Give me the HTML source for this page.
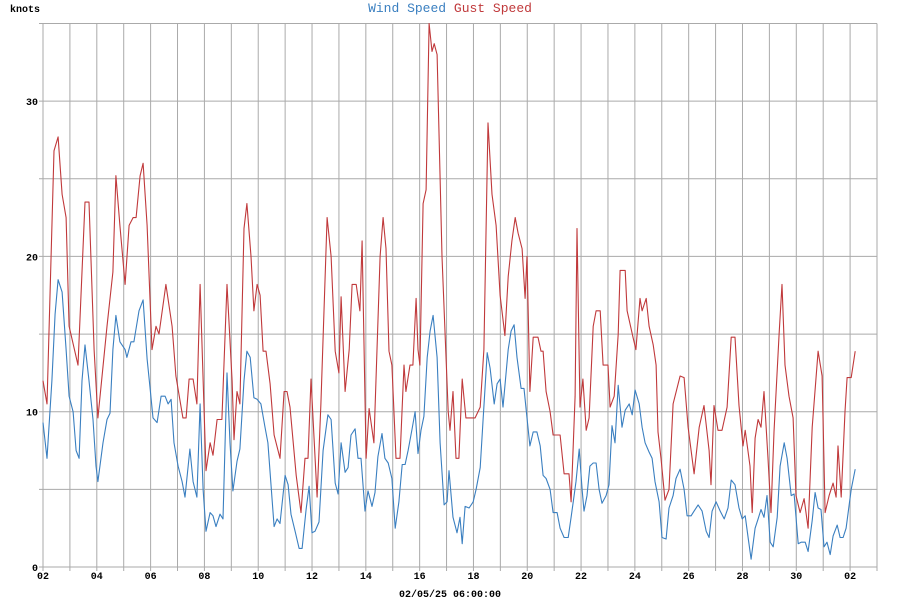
<!DOCTYPE html>
<html><head><meta charset="utf-8"><style>
html,body{margin:0;padding:0;background:#fff;}
svg text{font-family:"Liberation Mono","DejaVu Sans Mono",monospace;}
</style></head><body>
<svg id="chart" width="900" height="600" viewBox="0 0 900 600" xmlns="http://www.w3.org/2000/svg">
<rect x="0" y="0" width="900" height="600" fill="#fff"/>
<g id="grid"></g>
<g id="series"></g>
<g id="axes"></g>
<text x="10" y="12" font-size="10" font-weight="bold" fill="#000">knots</text>
<text x="450" y="12" font-size="13" text-anchor="middle"><tspan fill="#3a7fc0">Wind Speed</tspan> <tspan fill="#c0393b">Gust Speed</tspan></text>
<text x="450" y="597" font-size="10" font-weight="bold" text-anchor="middle" fill="#000">02/05/25 06:00:00</text>
</svg>
<script>
const yTicks=[0,10,20,30];
const xTickDays=[0,2,4,6,8,10,12,14,16,18,20,22,24,26,28,30];
const xTickLabels=["02","04","06","08","10","12","14","16","18","20","22","24","26","28","30","02"];
const gustT=[0,.15,.41,.56,.71,.86,.97,1.30,1.56,1.71,1.90,2.04,2.38,2.60,2.71,2.86,3.05,3.20,3.35,3.46,3.61,3.72,3.87,4.05,4.20,4.31,4.57,4.80,4.94,5.20,5.32,5.43,5.58,5.72,5.84,6.06,6.21,6.32,6.47,6.65,6.84,7.03,7.10,7.21,7.32,7.47,7.58,7.73,7.84,7.96,8.07,8.18,8.29,8.44,8.59,8.81,8.96,9.07,9.18,9.41,9.59,9.74,9.85,9.96,10.19,10.33,10.56,10.71,10.86,11.00,11.08,11.23,11.38,11.49,11.64,11.78,11.86,12.01,12.12,12.30,12.53,12.64,12.75,12.86,12.97,13.12,13.27,13.42,13.49,13.64,13.75,13.87,13.94,14.01,14.13,14.24,14.35,14.46,14.54,14.65,14.83,15.06,15.13,15.24,15.35,15.46,15.58,15.72,16.06,16.25,16.39,16.54,16.69,16.84,16.99,17.17,17.29,17.43,17.55,17.66,17.81,17.92,17.99,18.10,18.22,18.40,18.51,18.59,18.70,18.85,18.96,19.22,19.37,19.55,19.63,19.78,19.85,19.96,20.07,20.19,20.30,20.45,20.56,20.71,20.82,21.00,21.08,21.23,21.38,21.45,21.64,21.71,21.93,22.04,22.19,22.27,22.42,22.53,22.68,22.79,22.86,22.97,23.12,23.27,23.42,23.68,23.83,23.98,24.20,24.39,24.57,24.76,24.83,24.94,25.09,25.24,25.43,25.58,25.72,25.87,26.02,26.10,26.28,26.36,26.47,26.58,26.69,26.80,26.95,27.06,27.17,27.36,27.47,27.58,27.73,27.88,27.99,28.14,28.29,28.44,28.59,28.81,28.96,29.07,29.22,29.37,29.48,29.55,29.67,29.81,29.89,30.04,30.19];
const gustV=[12,10.5,26.8,27.7,24,22.5,15.5,13,23.5,23.5,14,9.6,15.5,19,25.2,22,18.2,22,22.5,22.5,25.2,26,22,14,15.5,15,18.2,15.5,12.3,9.6,9.6,12.1,12.1,10.5,18.2,6.2,8,7.2,9.5,9.5,18.2,12,8.2,11.3,10.5,21.8,23.4,20,16.5,18.2,17.5,13.9,13.9,11.8,8.5,7,11.3,11.3,10.3,5.9,3.5,7,7,12.1,4.5,10.5,22.5,20,13.9,12.5,17.4,11.3,14,18.2,18.2,16.5,21,7,10.2,8,20,22.5,20.5,13.9,13,7,7,13,11.3,13,13,17.3,14,13,23.4,24.3,35,33.2,33.7,33,20,10,8.8,11.3,7,7,12.1,9.6,9.6,10.3,14,28.6,24,22,17.5,14.9,18.7,21,22.5,21.5,20.5,17.3,20,11.3,14.8,14.8,13.9,13.9,11.3,10,8.5,8.5,6,6,4.2,11,21.8,10.3,12.1,8.8,9.6,15.5,16.5,16.5,13,13,10.3,11,15,19.1,19.1,16.5,14.8,14,17.3,16.5,17.3,15.5,14.3,13,8.7,7,4.3,5,10.5,12.3,12.2,9,6,9,10.4,7.5,5.3,10.4,8.8,8.8,10.3,14.8,14.8,10.4,7.8,8.8,6.5,3.5,8.3,9.5,9,11.3,7,3.5,8.7,15,18.2,13,11,9.6,4.6,3.5,4.4,2.5,9,13.9,12.3,3.5,4.6,5.4,4.5,7.8,4.5,10,12.2,12.2,13.9];
const windT=[0,.15,.33,.45,.56,.71,.86,.97,1.12,1.23,1.34,1.45,1.56,1.71,1.86,1.97,2.04,2.23,2.38,2.49,2.60,2.71,2.86,3.05,3.12,3.27,3.38,3.57,3.72,3.87,3.98,4.09,4.24,4.39,4.54,4.65,4.76,4.87,5.02,5.17,5.28,5.46,5.58,5.72,5.84,5.95,6.06,6.21,6.32,6.43,6.58,6.69,6.84,6.95,7.06,7.21,7.32,7.47,7.58,7.70,7.84,7.96,8.10,8.25,8.36,8.59,8.70,8.81,9.00,9.11,9.22,9.37,9.52,9.63,9.78,9.89,10.00,10.11,10.26,10.41,10.59,10.71,10.86,10.97,11.08,11.23,11.34,11.45,11.60,11.71,11.82,11.97,12.08,12.23,12.34,12.45,12.60,12.71,12.83,12.97,13.09,13.23,13.35,13.46,13.57,13.72,13.83,13.94,14.05,14.16,14.28,14.39,14.50,14.65,14.76,14.91,15.02,15.09,15.24,15.39,15.50,15.58,15.69,15.84,15.99,16.10,16.25,16.36,16.51,16.62,16.77,16.88,16.99,17.10,17.29,17.40,17.51,17.62,17.77,17.88,17.99,18.10,18.22,18.36,18.48,18.59,18.70,18.85,18.96,19.11,19.22,19.37,19.52,19.63,19.74,19.81,19.93,20.04,20.11,20.22,20.33,20.45,20.56,20.67,20.78,20.93,21.04,21.15,21.26,21.38,21.52,21.64,21.79,21.90,22.01,22.16,22.27,22.38,22.53,22.64,22.75,22.90,23.01,23.16,23.27,23.42,23.53,23.68,23.83,23.94,24.09,24.20,24.35,24.50,24.65,24.76,24.87,25.02,25.17,25.32,25.46,25.58,25.72,25.87,25.99,26.10,26.21,26.32,26.47,26.58,26.69,26.80,26.91,27.03,27.14,27.29,27.40,27.55,27.66,27.81,27.92,28.07,28.18,28.33,28.44,28.59,28.70,28.81,28.92,29.03,29.14,29.26,29.37,29.52,29.63,29.74,29.85,30.04,30.19];
const windV=[9.3,7,12,16.3,18.5,17.7,14,11,10,7.5,7,12,14.3,12,9.5,6.5,5.5,8,9.5,9.9,14,16.2,14.5,14,13.5,14.5,14.5,16.5,17.2,13.4,11.5,9.6,9.3,11,11,10.5,10.8,8,6.5,5.5,4.5,7.6,5.5,4.5,10.5,5,2.3,3.5,3.3,2.6,3.4,3.1,12.5,8,4.9,6.8,7.6,12,13.9,13.5,10.9,10.8,10.5,9,8,2.6,3.1,2.8,5.9,5.3,3.4,2.3,1.2,1.2,3.7,5.2,2.2,2.3,2.9,7.5,9.8,9.5,5.4,4.7,8,6.1,6.4,8.5,8.9,7,7,3.6,4.9,3.9,4.8,7.1,8.6,7,6.7,5.7,2.5,4.2,6.6,6.6,7.5,8.9,10,7.3,8.8,9.7,13.5,15.2,16.2,13.5,8,4,4.2,6.2,3.2,2.2,3.2,1.5,3.9,3.8,4.2,5,6.4,9.5,13.8,12.8,10.5,11.8,12.1,10.3,14,15.2,15.6,13.5,11.5,11.5,9.6,7.8,8.7,8.7,7.8,5.9,5.7,5,3.5,3.5,2.5,1.9,1.9,3.2,4.6,5.5,7.6,5,3.6,4.6,6.5,6.7,6.7,5,4.1,4.6,5.3,9.1,8,11.7,9,10.1,10.5,9.8,11.4,10.5,9,8,7.4,7,5.5,4.2,1.9,1.8,3.8,4.6,5.7,6.3,5,3.3,3.3,3.6,4,3.6,2.3,1.9,3.6,4.2,3.6,3.1,3.8,5.6,5.3,3.8,3.1,3.3,1.9,0.5,2.5,3.1,3.7,3.2,4.6,1.6,1.3,3.2,6.5,8,7,4.6,4.7,1.5,1.6,1.6,1,3,4.8,3.8,3.7,1.3,1.6,0.8,2,2.7,1.9,1.9,2.5,5,6.3];

const L=43,R=877,T=23.5,B=567,DAYS=31,YMAX=35;
const xS=d=>L+d*(R-L)/DAYS;
const yS=v=>B-v*(B-T)/YMAX;
const NS="http://www.w3.org/2000/svg";
function mk(tag,attrs,parent){const e=document.createElementNS(NS,tag);for(const k in attrs)e.setAttribute(k,attrs[k]);parent.appendChild(e);return e;}
const grid=document.getElementById('grid'),axes=document.getElementById('axes'),series=document.getElementById('series');
for(let d=0;d<=DAYS;d++){
  const gl=mk('line',{x1:xS(d),x2:xS(d),y1:T,y2:B+4,stroke:'#aaa','stroke-width':1},grid);
  
  
}
for(let v=0;v<=YMAX;v+=5){
  const gl=mk('line',{x1:L-4,x2:R,y1:yS(v),y2:yS(v),stroke:'#aaa','stroke-width':1},grid);
  
  
}
yTicks.forEach(v=>{
  const t=mk('text',{x:38,y:yS(v)+4,'font-size':10,'font-weight':'bold','text-anchor':'end',fill:'#000'},axes);
  t.textContent=v;
  
  
});
xTickDays.forEach((d,i)=>{
  const t=mk('text',{x:xS(d),y:579,'font-size':10,'font-weight':'bold','text-anchor':'middle',fill:'#000'},axes);
  t.textContent=xTickLabels[i];
  
  
});
function line(ts,vs,color,name){
  const p=mk('polyline',{points:ts.map((t,i)=>xS(t).toFixed(1)+','+yS(vs[i]).toFixed(1)).join(' '),fill:'none',stroke:color,'stroke-width':1.1,'stroke-linejoin':'round'},series);
  
  
}
line(windT,windV,'#3a7fc0','wind-speed-line');
line(gustT,gustV,'#c0393b','gust-speed-line');
</script>
</body></html>
